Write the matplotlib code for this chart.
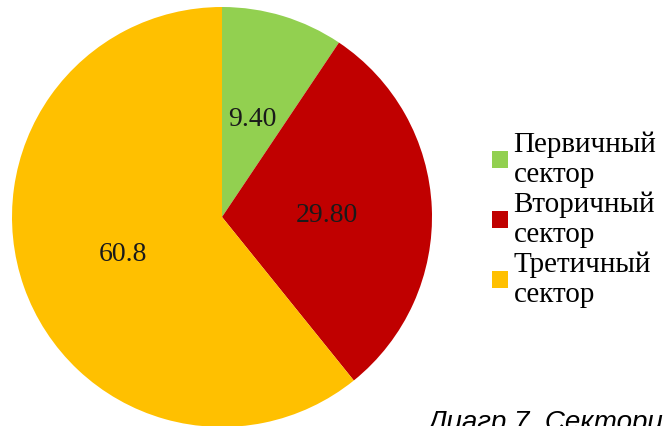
import matplotlib

matplotlib.use("Agg")
import matplotlib.pyplot as plt

plt.rcParams["font.family"] = ["Liberation Serif", "DejaVu Serif"]

# sector shares, clockwise from 12 o'clock
values = [9.40, 29.80, 60.8]
value_labels = ["9.40", "29.80", "60.8"]
legend_labels = ["Первичный\nсектор", "Вторичный\nсектор", "Третичный\nсектор"]
colors = ["#92D050", "#C00000", "#FFC000"]
caption = "Диагр 7. Сектори"

fig = plt.figure(figsize=(6.66, 4.26), dpi=100)
ax = fig.add_axes([12 / 666, -1 / 426, 420 / 666, 420 / 426])

wedges, texts = ax.pie(
    values,
    labels=value_labels,
    colors=colors,
    startangle=90,
    counterclock=False,
    labeldistance=0.5,
    radius=1.0,
    wedgeprops={"linewidth": 0},
    textprops={"fontsize": 20, "color": "#1a1a1a"},
)
for t in texts:
    t.set_ha("center")
    t.set_va("center_baseline")
ax.set_xlim(-1, 1)
ax.set_ylim(-1, 1)
ax.set_aspect("equal")

fig.legend(
    wedges,
    legend_labels,
    loc="center left",
    bbox_to_anchor=(477 / 666, 1 - 220 / 426),
    frameon=False,
    fontsize=21,
    handlelength=0.55,
    handleheight=0.55,
    handletextpad=0.2,
    labelspacing=0.12,
    borderpad=0,
)

fig.text(428 / 666, 1 - 410 / 426, caption, family=["Liberation Sans"],
         style="italic", fontsize=20, va="top", ha="left")

fig.savefig("out.png", dpi=100)
